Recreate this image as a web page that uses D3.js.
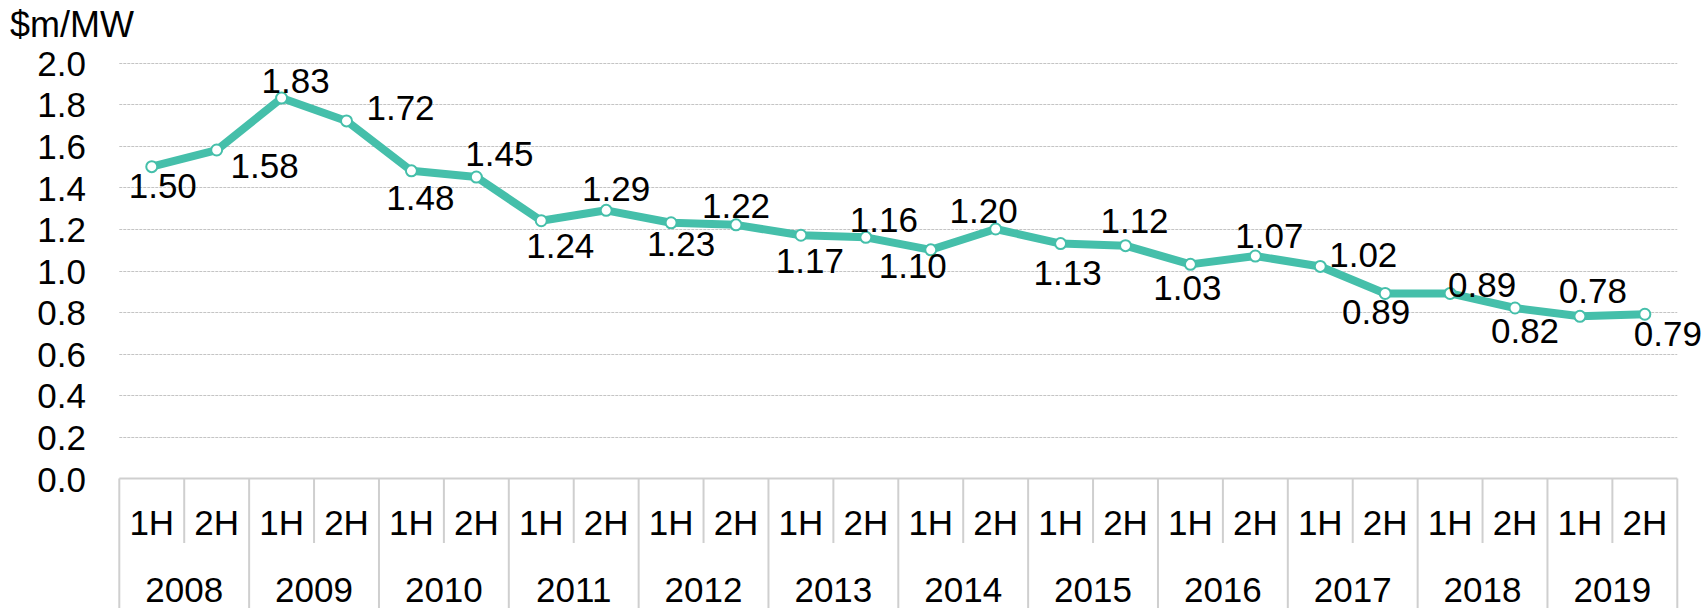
<!DOCTYPE html>
<html>
<head>
<meta charset="utf-8">
<script src="https://cdn.jsdelivr.net/npm/d3@7"></script>
<style>
  body { margin: 0; background: #fff; }
  svg text { font-family: "Liberation Sans", Arial, sans-serif; fill: #000; }
</style>
</head>
<body>
<svg id="chart" width="1707" height="608"></svg>
<script>
// data
var years = ["2008", "2009", "2010", "2011", "2012", "2013", "2014", "2015", "2016", "2017", "2018", "2019"];
var halves = ["1H", "2H"];
var values = [1.50, 1.58, 1.83, 1.72, 1.48, 1.45, 1.24, 1.29, 1.23, 1.22, 1.17, 1.16,
              1.10, 1.20, 1.13, 1.12, 1.03, 1.07, 1.02, 0.89, 0.89, 0.82, 0.78, 0.79];
var yTicks = [0, 0.2, 0.4, 0.6, 0.8, 1.0, 1.2, 1.4, 1.6, 1.8, 2.0];

// label nudges (px) relative to each point
var labelDx = [11, 48, 14, 54, 9, 23, 19, 10, 10, 0, 9, 18, -18, -12, 7, 9, -3, 14, 43, -9, 32, 10, 13, 23];
var labelDy = [19, 15, -18, -14, 27, -24, 25, -22, 21, -19, 25, -18, 16, -19, 29, -25, 23, -21, -12, 18, -9, 22, -26, 19];

var periods = [];
years.forEach(function(y) {
  halves.forEach(function(h) { periods.push({ year: y, half: h, key: y + "-" + h }); });
});
var points = periods.map(function(p, i) { return { key: p.key, value: values[i], i: i }; });

// plot box (note: "top" is a reserved window prop, so use other names)
var plotLeft = 119.3, plotRight = 1677.3, plotTop = 62.7, plotBottom = 478.5;
var teal = "#45bfaa", grid = "#c4c4c4", axisCol = "#cfcfcf";

var svg = d3.select("#chart");

var x = d3.scaleBand()
  .domain(periods.map(function(d) { return d.key; }))
  .range([plotLeft, plotRight]);
var y = d3.scaleLinear()
  .domain([0, 2])
  .range([plotBottom, plotTop]);

// gridlines
svg.append("g").selectAll("line")
    .data(yTicks.filter(function(t) { return t > 0; }))
  .enter().append("line")
    .attr("x1", plotLeft).attr("x2", plotRight)
    .attr("y1", function(d) { return Math.round(y(d)) + 0.5; })
    .attr("y2", function(d) { return Math.round(y(d)) + 0.5; })
    .attr("stroke", grid)
    .attr("stroke-width", 1)
    .attr("stroke-dasharray", "3,1");

// y axis labels
var yAxis = d3.axisLeft(y)
  .tickValues(yTicks)
  .tickFormat(d3.format(".1f"))
  .tickSize(0)
  .tickPadding(0);
var gy = svg.append("g")
  .attr("transform", "translate(86,0)")
  .call(yAxis);
gy.select(".domain").remove();
gy.selectAll("text")
  .attr("font-size", "35px")
  .attr("font-family", "Liberation Sans, Arial, sans-serif")
  .attr("fill", "#000")
  .attr("dy", "0.36em");

svg.append("text")
  .attr("x", 10).attr("y", 37)
  .attr("font-size", "36px")
  .text("$m/MW");

// category axis: baseline and separators
svg.append("line")
  .attr("x1", plotLeft).attr("x2", plotRight)
  .attr("y1", plotBottom).attr("y2", plotBottom)
  .attr("stroke", axisCol).attr("stroke-width", 2);

var bounds = periods.map(function(d, i) { return { x: x(d.key), yearEdge: i % 2 === 0 }; });
bounds.push({ x: plotRight, yearEdge: true });
svg.append("g").selectAll("line")
    .data(bounds)
  .enter().append("line")
    .attr("x1", function(d) { return d.x; })
    .attr("x2", function(d) { return d.x; })
    .attr("y1", plotBottom)
    .attr("y2", function(d) { return d.yearEdge ? 608 : 543; })
    .attr("stroke", axisCol)
    .attr("stroke-width", 2);

svg.append("g").selectAll("text")
    .data(periods)
  .enter().append("text")
    .attr("x", function(d) { return x(d.key) + x.bandwidth() / 2; })
    .attr("y", 535)
    .attr("text-anchor", "middle")
    .attr("font-size", "35px")
    .text(function(d) { return d.half; });

svg.append("g").selectAll("text")
    .data(years)
  .enter().append("text")
    .attr("x", function(d) { return x(d + "-1H") + x.bandwidth(); })
    .attr("y", 601.5)
    .attr("text-anchor", "middle")
    .attr("font-size", "35px")
    .text(function(d) { return d; });

// the line
var cx = function(d) { return x(d.key) + x.bandwidth() / 2; };
var line = d3.line()
  .x(cx)
  .y(function(d) { return y(d.value); });

svg.append("path")
  .datum(points)
  .attr("fill", "none")
  .attr("stroke", teal)
  .attr("stroke-width", 8)
  .attr("stroke-linejoin", "round")
  .attr("d", line);

svg.append("g").selectAll("circle")
    .data(points)
  .enter().append("circle")
    .attr("cx", cx)
    .attr("cy", function(d) { return y(d.value); })
    .attr("r", 5.5)
    .attr("fill", "#fff")
    .attr("stroke", teal)
    .attr("stroke-width", 2);

svg.append("g").selectAll("text")
    .data(points)
  .enter().append("text")
    .attr("x", function(d) { return cx(d) + labelDx[d.i]; })
    .attr("y", function(d) { return y(d.value) + labelDy[d.i]; })
    .attr("dy", "0.36em")
    .attr("text-anchor", "middle")
    .attr("font-size", "35px")
    .text(function(d) { return d.value.toFixed(2); });
</script>
</body>
</html>
